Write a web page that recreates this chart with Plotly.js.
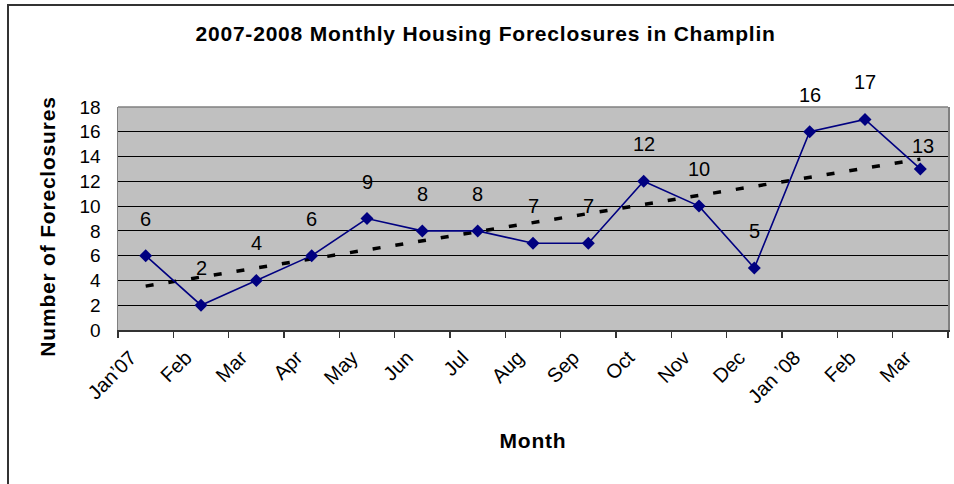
<!DOCTYPE html>
<html>
<head>
<meta charset="utf-8">
<script src="https://cdn.plot.ly/plotly-3.0.1.min.js"></script>
<style>
  html, body { margin: 0; padding: 0; background: #ffffff; }
  #wrap { position: relative; width: 954px; height: 484px; }
  #chart { position: absolute; left: 0; top: 0; width: 954px; height: 484px; }
  #frame { position: absolute; left: 7px; top: 4px; width: 960px; height: 500px;
           border-top: 2px solid #333; border-left: 2px solid #333; pointer-events: none; }
  #chart .gtitle, #chart .xtitle, #chart .ytitle { letter-spacing: 0.8px; }
</style>
</head>
<body>
<div id="wrap">
  <div id="chart"></div>
  <div id="frame"></div>
</div>
<script>
// ---- data ----
const months = ["Jan\u201907", "Feb", "Mar", "Apr", "May", "Jun", "Jul", "Aug", "Sep", "Oct", "Nov", "Dec", "Jan \u201908", "Feb ", "Mar "];
const foreclosures = [6, 2, 4, 6, 9, 8, 8, 7, 7, 12, 10, 5, 16, 17, 13];
const yTicks = [0, 2, 4, 6, 8, 10, 12, 14, 16, 18];

// linear trendline (least squares) computed from the data
const n = foreclosures.length;
const xs = foreclosures.map((_, i) => i + 1);
const mx = xs.reduce((a, b) => a + b, 0) / n;
const my = foreclosures.reduce((a, b) => a + b, 0) / n;
let sxy = 0, sxx = 0;
for (let i = 0; i < n; i++) { sxy += (xs[i] - mx) * (foreclosures[i] - my); sxx += (xs[i] - mx) ** 2; }
const slope = sxy / sxx, intercept = my - slope * mx;
const trend = xs.map(x => intercept + slope * x);

const FONT = "Liberation Sans, Arial, sans-serif";
const NAVY = "#000080";

const traces = [
  {
    x: months, y: trend, type: "scatter", mode: "lines",
    line: { color: "#000000", width: 3.5, dash: "8px,15px" },
    hoverinfo: "skip", showlegend: false
  },
  {
    x: months, y: foreclosures, type: "scatter", mode: "lines+markers",
    line: { color: NAVY, width: 1.6 },
    marker: { symbol: "diamond", size: 10, color: NAVY },
    showlegend: false
  }
];

const annotations = months.map((m, i) => ({
  x: m, y: foreclosures[i], xref: "x", yref: "y",
  text: String(foreclosures[i]), showarrow: false,
  yshift: i === n - 1 ? 23 : 37,
  xshift: i === n - 1 ? 3 : 0,
  font: { family: FONT, size: 20, color: "#000" }
}));

const layout = {
  width: 954, height: 484,
  margin: { l: 118, r: 6, t: 107, b: 154, pad: 0 },
  paper_bgcolor: "#ffffff",
  plot_bgcolor: "#c0c0c0",
  font: { family: FONT, color: "#000" },
  title: {
    text: "<b>2007-2008 Monthly Housing Foreclosures in Champlin</b>",
    font: { family: FONT, size: 21, color: "#000" },
    x: 0.509, xanchor: "center", xref: "container",
    y: 0.93, yanchor: "middle", yref: "container"
  },
  xaxis: {
    type: "category",
    range: [-0.5, n - 0.5],
    tickvals: months, ticktext: months.map(s => s.trim()),
    tickangle: -45,
    tickfont: { family: FONT, size: 20, color: "#000" },
    ticks: "outside", ticklen: 6, tickcolor: "#333", tickwidth: 1.5,
    tickson: "boundaries",
    ticklabelshift: -15, ticklabelstandoff: 6,
    showgrid: false, zeroline: false,
    showline: true, linecolor: "#333", linewidth: 2,
    title: { text: "<b>Month</b>", font: { family: FONT, size: 21, color: "#000" }, standoff: 27 },
    fixedrange: true
  },
  yaxis: {
    range: [0, 18],
    tickvals: yTicks,
    tickfont: { family: FONT, size: 19, color: "#000" },
    ticks: "", ticklabelstandoff: 12,
    showgrid: true, gridcolor: "#000000", gridwidth: 1,
    zeroline: false,
    showline: true, mirror: true, linecolor: "#808080", linewidth: 1.5,
    title: { text: "<b>Number of Foreclosures</b>", font: { family: FONT, size: 21, color: "#000" }, standoff: 18 },
    fixedrange: true
  },
  shapes: [
    { type: "line", xref: "paper", yref: "paper", x0: 0, x1: 1, y0: 1, y1: 1,
      line: { color: "#808080", width: 1.5 } }
  ],
  annotations: annotations,
  showlegend: false
};

Plotly.newPlot("chart", traces, layout, { displayModeBar: false, staticPlot: true }).then(gd => {
  // nudge the y-axis title down slightly, as in the original
  const yt = gd.querySelector(".g-ytitle");
  if (yt) yt.setAttribute("transform", "translate(0,8)");
});
</script>
</body>
</html>
